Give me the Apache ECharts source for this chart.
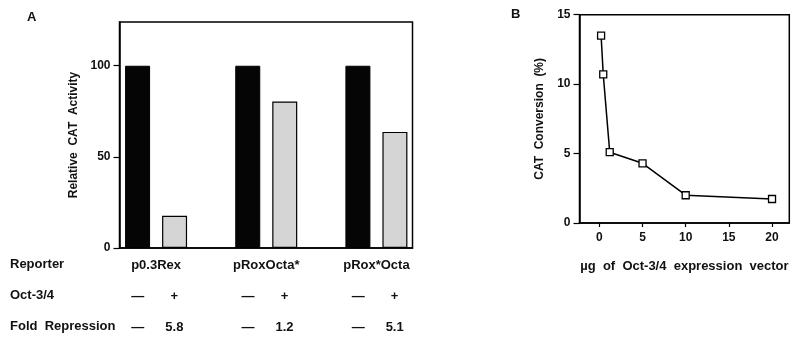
<!DOCTYPE html>
<html>
<head>
<meta charset="utf-8">
<script src="https://cdn.jsdelivr.net/npm/echarts@6/dist/echarts.min.js"></script>
<style>
  html, body { margin: 0; padding: 0; background: #fff; }
  #chart { width: 800px; height: 340px; }
</style>
</head>
<body>
<div id="chart"></div>
<script>
// panel A
const reporters = ['p0.3Rex', 'pRoxOcta*', 'pRox*Octa'];
const withoutOct = [100, 100, 100];
const withOct = [17.7, 80.4, 63.7];
const octRow = ['—', '+', '—', '+', '—', '+'];
const foldRow = ['—', '5.8', '—', '1.2', '—', '5.1'];
const rowTitles = ['Reporter', 'Oct-3/4', 'Fold  Repression'];
const activityTicks = [0, 50, 100];

// panel B
const doseUg = [0.2, 0.45, 1.2, 5, 10, 20];
const conversion = [13.5, 10.7, 5.1, 4.3, 2.0, 1.73];
const doseTicks = [0, 5, 10, 15, 20];

const font = '"Liberation Sans", Arial, sans-serif';
const ink = '#111';

let myChart = echarts.init(document.getElementById('chart'), null, { renderer: 'canvas' });

let option = {
    animation: false,
    backgroundColor: '#fff',
    textStyle: { fontFamily: font, color: ink },
    grid: [
        { left: 119.5, top: 22, width: 293, height: 226, show: true, borderColor: '#000', borderWidth: 1.5, containLabel: false },
        { left: 101, top: 22, width: 330.5, height: 226, containLabel: false },
        { left: 579.5, top: 14.7, width: 209.8, height: 208.3, show: true, borderColor: '#000', borderWidth: 1.5, containLabel: false }
    ],
    xAxis: [
        {
            gridIndex: 0, type: 'value', min: 0, max: 1,
            axisLine: { show: true, lineStyle: { color: '#000', width: 1.5 } },
            axisTick: { show: false }, axisLabel: { show: false }, splitLine: { show: false }
        },
        {
            gridIndex: 1, type: 'category', data: reporters,
            axisLine: { show: false }, axisTick: { show: false }, splitLine: { show: false },
            axisLabel: {
                margin: 2,
                interval: 0,
                formatter: function (value, idx) {
                    return '{r|' + value + '}\n' +
                        '{c|' + octRow[idx * 2] + '}{c|' + octRow[idx * 2 + 1] + '}\n' +
                        '{c|' + foldRow[idx * 2] + '}{c|' + foldRow[idx * 2 + 1] + '}';
                },
                rich: {
                    r: { width: 73, align: 'center', lineHeight: 31, fontSize: 13, fontWeight: 'bold', fontFamily: font, color: ink },
                    c: { width: 36.5, align: 'center', lineHeight: 31, fontSize: 13, fontWeight: 'bold', fontFamily: font, color: ink }
                }
            }
        },
        {
            gridIndex: 2, type: 'value', min: -2.3, max: 22,
            name: 'µg  of  Oct-3/4  expression  vector',
            nameLocation: 'middle', nameGap: 37,
            nameTextStyle: { fontSize: 13, fontWeight: 'bold', fontFamily: font, color: ink },
            axisLine: { show: true, onZero: false, lineStyle: { color: '#000', width: 1.5 } },
            axisTick: { show: true, inside: false, length: 4, customValues: doseTicks, lineStyle: { color: '#000', width: 1.2 } },
            axisLabel: { customValues: doseTicks, margin: 9, fontSize: 12, fontWeight: 'bold', fontFamily: font, color: ink },
            splitLine: { show: false }
        }
    ],
    yAxis: [
        {
            gridIndex: 0, type: 'value', min: 0, max: 124,
            name: 'Relative  CAT  Activity',
            nameLocation: 'middle', nameGap: 40,
            nameTextStyle: { fontSize: 12, fontWeight: 'bold', fontFamily: font, color: ink },
            axisLine: { show: true, onZero: false, lineStyle: { color: '#000', width: 1.5 } },
            axisTick: { show: true, inside: false, length: 6, customValues: activityTicks, lineStyle: { color: '#000', width: 1.2 } },
            axisLabel: { customValues: activityTicks, margin: 9, fontSize: 12, fontWeight: 'bold', fontFamily: font, color: ink },
            splitLine: { show: false }
        },
        {
            gridIndex: 1, type: 'value', min: 0, max: 124, show: false
        },
        {
            gridIndex: 2, type: 'value', min: 0, max: 15, interval: 5,
            name: 'CAT  Conversion  (%)',
            nameLocation: 'middle', nameGap: 34,
            nameTextStyle: { fontSize: 12, fontWeight: 'bold', fontFamily: font, color: ink },
            axisLine: { show: true, onZero: false, lineStyle: { color: '#000', width: 1.5 } },
            axisTick: { show: true, inside: false, length: 6, lineStyle: { color: '#000', width: 1.2 } },
            axisLabel: { margin: 9, fontSize: 12, fontWeight: 'bold', fontFamily: font, color: ink },
            splitLine: { show: false }
        }
    ],
    series: [
        {
            type: 'bar', xAxisIndex: 1, yAxisIndex: 1, data: withoutOct,
            barWidth: 25, barGap: '48%',
            itemStyle: { color: '#050505', borderColor: '#000', borderWidth: 1 }
        },
        {
            type: 'bar', xAxisIndex: 1, yAxisIndex: 1, data: withOct,
            barWidth: 25, barGap: '48%',
            itemStyle: { color: '#d5d5d5', borderColor: '#000', borderWidth: 1.2 }
        },
        {
            type: 'line', xAxisIndex: 2, yAxisIndex: 2,
            data: doseUg.map((d, i) => [d, conversion[i]]),
            symbol: 'rect', symbolSize: 7,
            lineStyle: { color: '#000', width: 1.5 },
            itemStyle: { color: '#fff', borderColor: '#000', borderWidth: 1.3 }
        }
    ],
    graphic: [
        { type: 'text', left: 27, top: 11, style: { text: 'A', font: 'bold 13px ' + font, fill: ink } },
        { type: 'text', left: 511, top: 8, style: { text: 'B', font: 'bold 13px ' + font, fill: ink } }
    ].concat(rowTitles.map((t, i) => ({
        type: 'text', left: 10, top: [258, 289, 320][i],
        style: { text: t, font: 'bold 13px ' + font, fill: ink }
    })))
};

myChart.setOption(option);
</script>
</body>
</html>
